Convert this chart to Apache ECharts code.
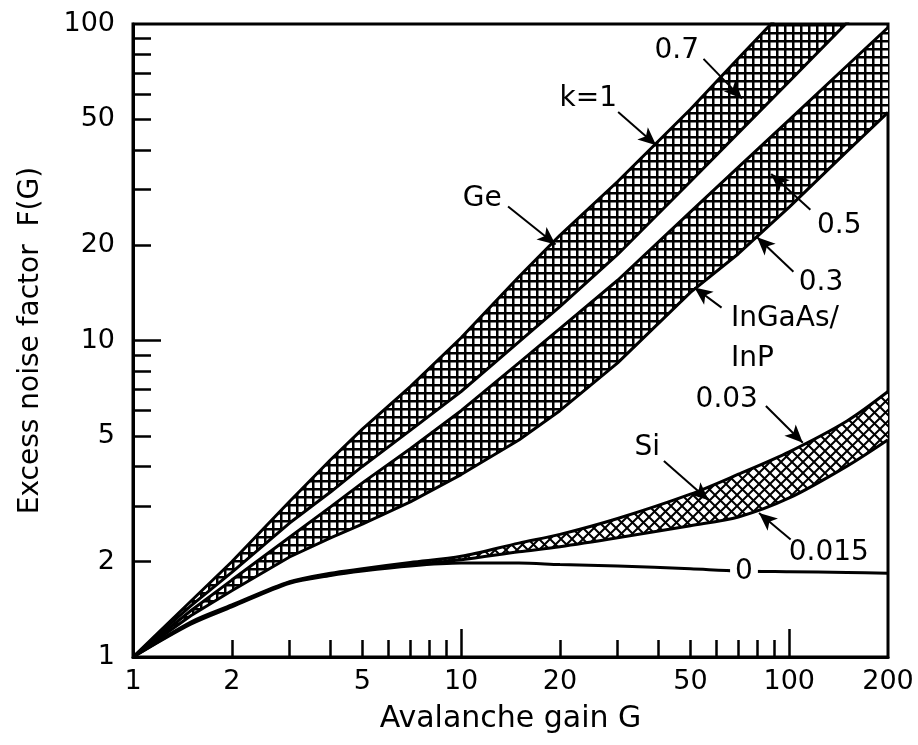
<!DOCTYPE html>
<html>
<head>
<meta charset="utf-8">
<script src="https://cdn.jsdelivr.net/npm/echarts@6/dist/echarts.min.js"></script>
<style>
  html, body { margin: 0; padding: 0; background: #fff; }
  #chart { width: 918px; height: 745px; }
</style>
</head>
<body>
<div id="chart"></div>
<script>
// avalanche gain samples (x) and excess noise factor (y)
const gain        = [1, 1.5, 2, 3, 4, 5, 7, 10, 15, 20, 30, 50, 70, 100, 150, 200]
const geUpper     = [1, 1.5, 2, 3.1, 4.2, 5.25, 7.15, 10.2, 15.9, 21.5, 31.8, 53.8, 77.9, 115, 175, 235]
const geLower     = [1, 1.45, 1.85, 2.65, 3.32, 4.0, 5.2, 6.9, 9.9, 12.8, 18.7, 31.8, 45.3, 65.8, 101, 134]
const ingaasUpper = [1, 1.4, 1.75, 2.39, 2.98, 3.55, 4.55, 6.0, 8.5, 10.9, 15.5, 25.5, 35.3, 49.8, 73.8, 97.5]
const ingaasLower = [1, 1.35, 1.62, 2.07, 2.38, 2.63, 3.09, 3.77, 4.85, 6.0, 8.5, 14.2, 18.8, 26.4, 39.6, 52.6]
const siUpper     = [1, 1.29, 1.46, 1.73, 1.84, 1.9, 1.99, 2.08, 2.29, 2.44, 2.74, 3.27, 3.78, 4.45, 5.57, 6.9]
const siLower     = [1, 1.28, 1.45, 1.72, 1.82, 1.88, 1.96, 2.03, 2.15, 2.23, 2.38, 2.6, 2.77, 3.18, 4.01, 4.86]
const kZero       = [1, 1.27, 1.44, 1.71, 1.81, 1.87, 1.94, 1.98, 1.98, 1.96, 1.94, 1.9, 1.87, 1.86, 1.85, 1.84]

// axis ticks and labels
const xLabels = [1, 2, 5, 10, 20, 50, 100, 200]
const yLabels = [1, 2, 5, 10, 20, 50, 100]
const minorTicks = [2, 3, 4, 5, 6, 7, 8, 9, 20, 30, 40, 50, 60, 70, 80, 90]
const majorTicks = [10, 100]

// annotations (text at [G, F], arrows from tail to tip)
const noteTexts = ['k=1', '0.7', 'Ge', '0.5', '0.3', 'InGaAs/\nInP', '0.03', 'Si', '0.015', '0']
const notePos = [[24.4, 58.1], [45.4, 82.4], [11.6, 28.1], [142, 23.1], [125, 15.2],
  [66.4, 13.6], [64.5, 6.48], [36.9, 4.59], [132, 2.13], [72.8, 1.86]]
const arrowTails = [[30.1, 52.7], [54.8, 77.6], [13.9, 26.5], [116, 25.9], [103, 16.5],
  [62.2, 12.7], [84.9, 6.21], [41.5, 4.16], [101, 2.35]]
const arrowTips = [[39.3, 41.4], [71.8, 58.1], [19.4, 20.1], [88.1, 33.6], [79.8, 21.2],
  [51.4, 14.7], [110, 4.75], [56.8, 3.13], [80.9, 2.85]]

const FONT = 'DejaVu Sans'

function squarePattern(pitch, lw) {
  const c = document.createElement('canvas')
  c.width = c.height = pitch
  const ctx = c.getContext('2d')
  ctx.fillStyle = '#fff'
  ctx.fillRect(0, 0, pitch, pitch)
  ctx.fillStyle = '#000'
  ctx.fillRect(0, 0, pitch, lw)
  ctx.fillRect(0, 0, lw, pitch)
  return c
}

function diagPattern(pitch, lw) {
  const c = document.createElement('canvas')
  c.width = c.height = pitch
  const ctx = c.getContext('2d')
  ctx.fillStyle = '#fff'
  ctx.fillRect(0, 0, pitch, pitch)
  ctx.strokeStyle = '#000'
  ctx.lineWidth = lw
  ctx.beginPath()
  ctx.moveTo(-1, -1); ctx.lineTo(pitch + 1, pitch + 1)
  ctx.moveTo(pitch + 1, -1); ctx.lineTo(-1, pitch + 1)
  ctx.stroke()
  return c
}

const gridFill = squarePattern(8, 2.5)
const diagFill = diagPattern(11, 2)

function band(upper, lower, pattern) {
  return {
    type: 'custom',
    clip: true,
    z: 1,
    silent: true,
    data: [[10, 10]],
    renderItem: (params, api) => {
      const top = gain.map((g, i) => api.coord([g, upper[i]]))
      const bottom = gain.map((g, i) => api.coord([g, lower[i]])).reverse()
      return {
        type: 'polygon',
        shape: { points: top.concat(bottom) },
        style: { fill: { image: pattern, repeat: 'repeat' }, stroke: null },
      }
    },
  }
}

function edge(values, smooth) {
  return {
    type: 'line',
    data: gain.map((g, i) => [g, values[i]]),
    showSymbol: false,
    smooth: smooth || false,
    clip: true,
    z: 3,
    silent: true,
    lineStyle: { color: '#000', width: 3 },
  }
}

const axisLabelStyle = { color: '#000', fontSize: 27, fontFamily: FONT }

const chart = echarts.init(document.getElementById('chart'), null, { renderer: 'canvas' })

chart.setOption({
  animation: false,
  backgroundColor: '#fff',
  grid: { left: 133, right: 30, top: 24, bottom: 88, show: true, borderColor: '#000', borderWidth: 3 },
  xAxis: [
    {
      type: 'log', logBase: 10, min: 1, max: 200,
      name: 'Avalanche gain G', nameLocation: 'middle', nameGap: 47,
      nameTextStyle: { color: '#000', fontSize: 30, fontFamily: FONT },
      axisLine: { lineStyle: { color: '#000', width: 3 } },
      axisTick: { inside: true, length: 17, customValues: minorTicks, lineStyle: { color: '#000', width: 2.5 } },
      axisLabel: { ...axisLabelStyle, margin: 11, customValues: xLabels },
      splitLine: { show: false },
      minorTick: { show: false },
    },
    {
      type: 'log', logBase: 10, min: 1, max: 200, position: 'bottom', gridIndex: 0,
      axisLine: { show: false },
      axisTick: { inside: true, length: 28, customValues: majorTicks, lineStyle: { color: '#000', width: 2.5 } },
      axisLabel: { show: false },
      splitLine: { show: false },
    },
  ],
  yAxis: [
    {
      type: 'log', logBase: 10, min: 1, max: 100,
      name: 'Excess noise factor  F(G)', nameLocation: 'middle', nameGap: 88,
      nameTextStyle: { color: '#000', fontSize: 28, fontFamily: FONT },
      axisLine: { lineStyle: { color: '#000', width: 3 } },
      axisTick: { inside: true, length: 18, customValues: minorTicks, lineStyle: { color: '#000', width: 2.5 } },
      axisLabel: { ...axisLabelStyle, margin: 18, customValues: yLabels },
      splitLine: { show: false },
    },
    {
      type: 'log', logBase: 10, min: 1, max: 100, position: 'left', gridIndex: 0,
      axisLine: { show: false },
      axisTick: { inside: true, length: 28, customValues: [10], lineStyle: { color: '#000', width: 2.5 } },
      axisLabel: { show: false },
      splitLine: { show: false },
    },
  ],
  series: [
    band(geUpper, geLower, gridFill),
    band(ingaasUpper, ingaasLower, gridFill),
    band(siUpper, siLower, diagFill),
    edge(geUpper), edge(geLower),
    edge(ingaasUpper), edge(ingaasLower),
    edge(siUpper, 0.3), edge(siLower, 0.3),
    edge(kZero, 0.3),
    {
      type: 'scatter',
      z: 10,
      silent: true,
      symbolSize: 0,
      itemStyle: { opacity: 1, color: '#000' },
      data: noteTexts.map((t, i) => {
        const multi = t.includes('\n')
        return {
          value: notePos[i],
          label: {
            show: true,
            formatter: t,
            position: multi ? [0, 0] : 'inside',
            align: multi ? 'left' : 'center',
            verticalAlign: multi ? 'top' : 'middle',
            lineHeight: multi ? 40 : 30,
            color: '#000',
            opacity: 1,
            textBorderWidth: 0,
            fontSize: 28,
            fontFamily: FONT,
            backgroundColor: t === '0' ? '#fff' : 'transparent',
            padding: t === '0' ? [0, 5] : 0,
          },
        }
      }),
      markLine: {
        silent: true,
        animation: false,
        symbol: ['none', 'arrow'],
        symbolSize: [12, 18],
        lineStyle: { color: '#000', width: 2, type: 'solid', opacity: 1 },
        label: { show: false },
        data: arrowTails.map((t, i) => [{ coord: t }, { coord: arrowTips[i] }]),
      },
    },
  ],
})

window.addEventListener('resize', () => chart.resize())
</script>
</body>
</html>
